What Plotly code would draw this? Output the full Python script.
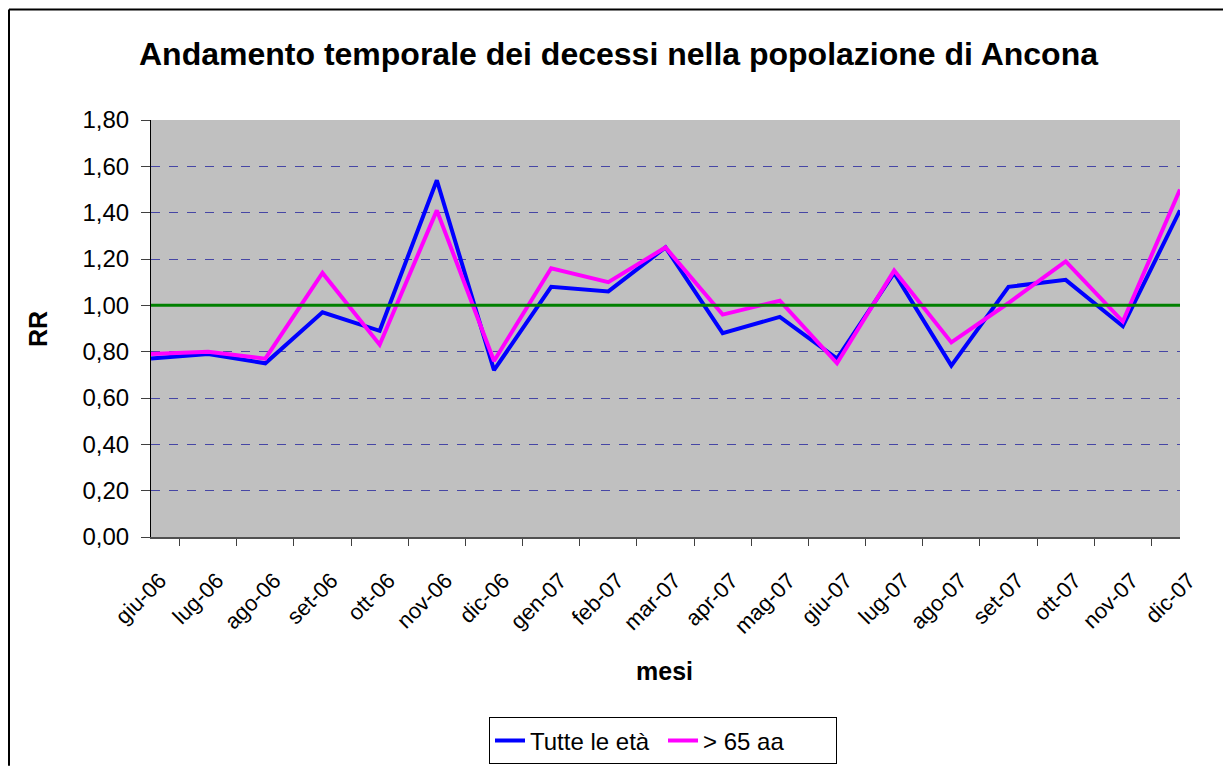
import plotly.graph_objects as go

mesi = ['giu-06', 'lug-06', 'ago-06', 'set-06', 'ott-06', 'nov-06', 'dic-06',
        'gen-07', 'feb-07', 'mar-07', 'apr-07', 'mag-07', 'giu-07', 'lug-07',
        'ago-07', 'set-07', 'ott-07', 'nov-07', 'dic-07']
tutte_eta = [0.77, 0.79, 0.75, 0.97, 0.89, 1.54, 0.72, 1.08, 1.06, 1.25,
             0.88, 0.95, 0.77, 1.14, 0.74, 1.08, 1.11, 0.91, 1.41]
over_65 = [0.79, 0.80, 0.77, 1.14, 0.83, 1.41, 0.76, 1.16, 1.10, 1.25,
           0.96, 1.02, 0.75, 1.15, 0.84, 1.01, 1.19, 0.93, 1.50]
rr_riferimento = 1.0

FONT = 'Liberation Sans, Arial, sans-serif'
W, H = 1223, 776
L, R, T, B = 151, 43, 120, 233


def px_x(x):
    # pixel column -> paper coordinate
    return (x - L) / (W - L - R)


def px_y(y):
    # pixel row -> paper coordinate
    return (H - B - y) / (H - T - B)


fig = go.Figure()
fig.add_trace(
    go.Scatter(
        x = mesi,
        y = tutte_eta,
        mode = 'lines',
        name = 'Tutte le età',
        line = {'color': '#0000FF', 'width': 4}
    )
)
fig.add_trace(
    go.Scatter(
        x = mesi,
        y = over_65,
        mode = 'lines',
        name = '> 65 aa',
        line = {'color': '#FF00FF', 'width': 4}
    )
)

fig.update_layout(
    width = W,
    height = H,
    margin = {'l': L, 'r': R, 't': T, 'b': B},
    paper_bgcolor = 'white',
    plot_bgcolor = '#C0C0C0',
    separators = ',.',
    font = {'family': FONT, 'color': 'black', 'size': 24},
    showlegend = True,
    legend = {
        'orientation': 'h',
        'x': px_x(663),
        'xanchor': 'center',
        'y': px_y(726),
        'yanchor': 'top',
        'bordercolor': 'black',
        'borderwidth': 1,
        'bgcolor': 'white',
        'font': {'size': 24},
        'entrywidth': 128,
    },
    annotations = [
        dict(text = '<b>Andamento temporale dei decessi nella popolazione di Ancona</b>',
             xref = 'paper', yref = 'paper', x = px_x(618), y = px_y(53),
             xanchor = 'center', yanchor = 'middle',
             showarrow = False, font = {'size': 32}),
        dict(text = '<b>RR</b>', xref = 'paper', yref = 'paper', x = px_x(38), y = px_y(332),
             xanchor = 'center', yanchor = 'middle',
             textangle = -90, showarrow = False, font = {'size': 25}),
        dict(text = '<b>mesi</b>', xref = 'paper', yref = 'paper', x = px_x(664), y = px_y(679),
             xanchor = 'center', yanchor = 'middle',
             showarrow = False, font = {'size': 25}),
    ],
)

# outer chart border: only the top and left edges fall inside the window
fig.add_shape(type = 'line', xref = 'paper', yref = 'paper',
              x0 = px_x(9), x1 = px_x(W), y0 = px_y(8), y1 = px_y(8),
              line = {'color': 'black', 'width': 2}, layer = 'below')
fig.add_shape(type = 'line', xref = 'paper', yref = 'paper',
              x0 = px_x(9), x1 = px_x(9), y0 = px_y(8), y1 = px_y(H - 1),
              line = {'color': 'black', 'width': 2}, layer = 'below')

# reference line RR = 1
fig.add_hline(y = rr_riferimento, line = {'color': '#008000', 'width': 3})

fig.update_xaxes(
    type = 'category',
    tickson = 'boundaries',
    ticks = 'outside',
    ticklen = 7,
    tickcolor = '#404040',
    tickangle = -45,
    ticklabelshift = 9,
    ticklabelstandoff = 20,
    showgrid = False,
    showline = True,
    linecolor = '#505050',
    linewidth = 2,
    automargin = False,
    tickfont = {'size': 22},
)
fig.update_yaxes(
    range = [0, 1.8],
    dtick = 0.2,
    tickformat = '.2f',
    ticks = 'outside',
    ticklen = 9,
    tickcolor = '#404040',
    ticklabelstandoff = 7,
    showgrid = True,
    gridcolor = '#4646A5',
    griddash = 'dash',
    gridwidth = 1,
    zeroline = False,
    showline = True,
    linecolor = 'black',
    linewidth = 1,
    automargin = False,
    tickfont = {'size': 24},
)

# pin the page to exactly the figure size (no default body margin, no overflow)
page_css = (
    "for (const el of [document.documentElement, document.body]) {"
    " el.style.margin = '0'; el.style.padding = '0';"
    " el.style.height = '776px'; el.style.overflow = 'hidden'; }"
)
fig.write_html('out.html', config = {'displayModeBar': False}, post_script = page_css)
